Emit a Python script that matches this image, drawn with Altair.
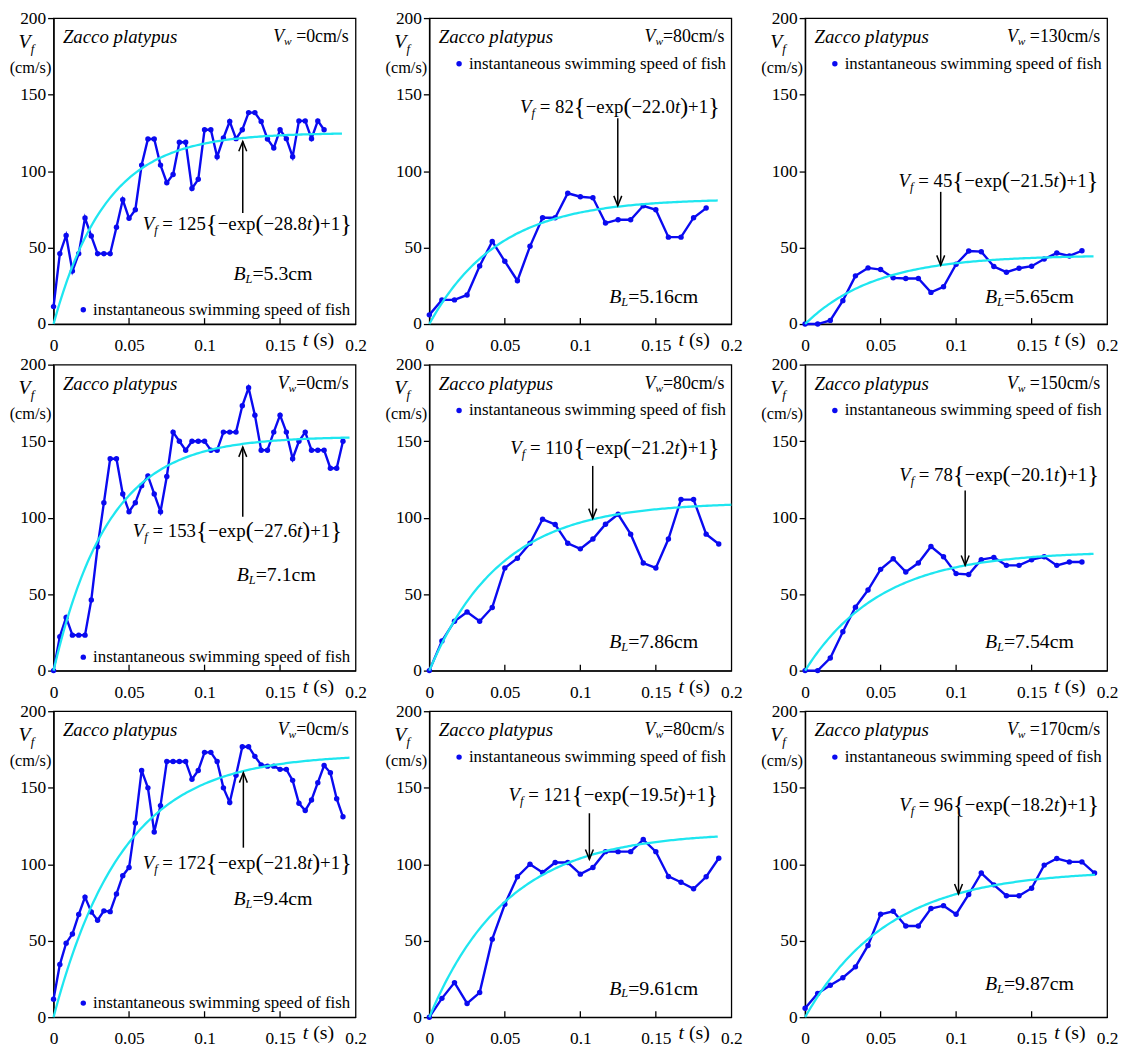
import altair as alt
import pandas as pd
import numpy as np

FONT = "Liberation Serif"
W, H = 305, 309
BLUE = "#0a0af0"
CYAN = "#1ee6f0"

# frame interval of each record (s)
FRAME = [1/240, 1/120, 1/120, 1/240, 1/120, 1/120, 1/240, 1/120, 1/120]

SPEED_1 = [11.4, 46, 57.9, 34.6, 46, 69.3, 57.5, 46, 46, 46, 63.3, 81.2, 69.1, 74.7, 103.9,
           121, 121, 103.9, 92.4, 97.8, 118.8, 118.8, 88.6, 94.6, 127, 127, 109.3, 121.6,
           132.4, 121.2, 127, 138.2, 138.2, 132.4, 121, 115.1, 127, 121.2, 109.3, 132.8,
           132.8, 121.2, 132.8, 127]
SPEED_2 = [6, 15.8, 15.8, 19, 38, 54, 41, 28.3, 50.8, 69.5, 69.5, 85.5, 83.2, 82.5, 66,
           68.2, 68.2, 77.3, 74.7, 56.8, 56.8, 69.5, 75.8]
SPEED_3 = [0, 0, 2.4, 15.3, 31.5, 36.7, 35.6, 30.2, 29.8, 29.8, 20.7, 24.4, 39.1, 47.7,
           47.3, 37.6, 33.9, 36.5, 37.8, 42.5, 46.4, 44.5, 47.9]
SPEED_4 = [0, 22.2, 34.8, 23.2, 23.2, 23.2, 46.2, 80.9, 109.7, 138.5, 138.5, 115.5, 103.9,
           109.7, 120.9, 127.3, 115.5, 103.9, 126.9, 155.9, 149.9, 144.1, 149.9, 149.9,
           149.9, 144.1, 144.1, 155.9, 155.9, 155.9, 173.1, 184.9, 167, 144.1, 144.1, 155.9,
           167, 155.9, 138.5, 149.9, 155.9, 144.1, 144.1, 144.1, 132.3, 132.3, 149.9]
SPEED_5 = [0, 19.4, 32.3, 38.3, 32.3, 41.3, 67.1, 73.5, 83.2, 98.9, 95.5, 83.2, 79.6, 86,
           95.7, 102.2, 89.2, 70.3, 67.1, 86, 111.8, 111.8, 89.2, 82.8]
SPEED_6 = [0, 0, 8.2, 25.4, 41.5, 52.7, 66.2, 73.1, 64.5, 70.3, 81.1, 74.4, 63.4, 62.8,
           72.5, 74, 68.8, 68.8, 72.5, 74.4, 68.8, 71, 71]
SPEED_7 = [11.8, 34.4, 48.4, 54.4, 67.1, 78.5, 68.8, 63.4, 69.5, 69, 80.6, 92.5, 97.8,
           126.9, 161.3, 149.9, 121.1, 138.3, 167.1, 167.1, 167.1, 167.1, 155.5, 161.3,
           173.1, 173.1, 167.1, 149.9, 140.4, 158.1, 176.8, 176.8, 170.5, 164.9, 164.1,
           164.1, 162, 162, 154.8, 139.8, 135.1, 142, 153.3, 164.5, 159.8, 142.8, 131]
SPEED_8 = [0, 12.3, 22.6, 9, 16.1, 51, 73.8, 91.8, 100, 94.6, 101.1, 101.1, 93.5, 97.8,
           108.2, 108.2, 108.2, 116.1, 108.2, 92, 88.2, 83.9, 91.8, 103.9]
SPEED_9 = [5.8, 15.5, 20.9, 25.8, 32.9, 46.9, 67.3, 69.2, 59.6, 59.6, 71, 72.9, 67.3, 80.2,
           94.2, 86.5, 79.4, 79.4, 84.3, 99.4, 103.7, 101.5, 101.5, 94.2]
SPEEDS = [SPEED_1, SPEED_2, SPEED_3, SPEED_4, SPEED_5, SPEED_6, SPEED_7, SPEED_8, SPEED_9]

VW = ["0", "80", "130", "0", "80", "150", "0", "80", "170"]
VW_GAP = [True, False, True, False, False, True, False, False, True]
BL = ["5.3", "5.16", "5.65", "7.1", "7.86", "7.54", "9.4", "9.61", "9.87"]
FIT_A = ["125", "82", "45", "153", "110", "78", "172", "121", "96"]
FIT_K = ["28.8", "22.0", "21.5", "27.6", "21.2", "20.1", "21.8", "19.5", "18.2"]
FIT_END = [0.191, 0.191, 0.191, 0.196, 0.2, 0.191, 0.196, 0.191, 0.192]

EQ_POS = [(0.059, 65.4), (0.0601, 142), (0.0619, 93.5), (0.0525, 91.4), (0.0536, 145.2),
          (0.0623, 128), (0.059, 101), (0.0525, 145), (0.0623, 138.7)]
# arrow: (t, tail v, tip v)
ARROWS = [(0.1253, 72.6, 119.4), (0.1248, 134.6, 77.3), (0.0898, 86.4, 38.4),
          (0.1253, 100.6, 146.2), (0.1082, 133.8, 99.4), (0.106, 117.8, 68.8),
          (0.1257, 110.8, 159.8), (0.106, 133.3, 103.2), (0.1016, 131.8, 80.6)]
BL_POS = [(0.1191, 32.4), (0.1191, 17.9), (0.1191, 17.9), (0.1213, 62.4), (0.1191, 18.7),
          (0.1191, 18.7), (0.1191, 77), (0.1191, 18.7), (0.1191, 21.5)]
LEGEND_V = [9.4, 170.2, 170.2, 8.8, 170.0, 170.0, 9.2, 170.0, 170.0]

X_TICKS = [0, 0.05, 0.1, 0.15, 0.2]
Y_TICKS = [0, 50, 100, 150, 200]
INNER_TICKS = [0.05, 0.1, 0.15]

# Times-compatible advance widths (per 1000 em)
REG = {' ': 250, '(': 333, ')': 333, '+': 564, '=': 564, '\u2212': 564, '.': 250, '/': 278,
       '{': 480, '}': 480, 'c': 444, 'm': 778, 's': 389, 'e': 444, 'x': 500, 'p': 500}
ITA = {'V': 611, 'f': 278, 'w': 667, 'B': 611, 'L': 556, 't': 278, ' ': 250}


def tw(txt, size, ital):
    tab = ITA if ital else REG
    return sum((500 if ch.isdigit() else tab.get(ch, 500)) for ch in txt) * size / 1000.0


X = alt.X('t:Q', scale=alt.Scale(domain=[0, 0.2], nice=False, zero=False),
          axis=alt.Axis(values=X_TICKS, format='~g', ticks=False, tickSize=0,
                        labelPadding=13, title=None, labelFlush=False, grid=False))
Y = alt.Y('v:Q', scale=alt.Scale(domain=[0, 200], nice=False, zero=False),
          axis=alt.Axis(values=Y_TICKS, tickSize=6, labelPadding=2, title=None,
                        labelFlush=False, grid=False))


def rich(parts, t, v, align='left'):
    widths = [tw(p[0], p[1], p[2]) for p in parts]
    x0 = 0.0 if align == 'left' else -sum(widths)
    df = pd.DataFrame({'t': [t], 'v': [v]})
    out = []
    for (txt, size, ital, dy), w in zip(parts, widths):
        lead = len(txt) - len(txt.lstrip(' '))
        out.append(alt.Chart(df).mark_text(
            text=txt.strip(' '), align='left', baseline='middle',
            dx=x0 + lead * 0.25 * size, dy=dy, font=FONT, fontSize=size,
            fontStyle='italic' if ital else 'normal', color='black'
        ).encode(x=X, y=Y))
        x0 += w
    return out


def panel(i):
    vals = SPEEDS[i]
    pts = pd.DataFrame({'t': [k * FRAME[i] for k in range(len(vals))], 'v': vals})
    A = float(FIT_A[i]); K = float(FIT_K[i])
    tc = np.linspace(0, FIT_END[i], 150)
    cur = pd.DataFrame({'t': tc, 'v': A * (1 - np.exp(-K * tc))})
    layers = []
    layers.append(alt.Chart(pts).mark_line(color=BLUE, strokeWidth=2.4).encode(x=X, y=Y))
    layers.append(alt.Chart(pts).mark_circle(color=BLUE, size=30, opacity=1).encode(x=X, y=Y))
    layers.append(alt.Chart(cur).mark_line(color=CYAN, strokeWidth=2.3).encode(x=X, y=Y))
    # inward x ticks
    layers.append(alt.Chart(pd.DataFrame({'t': INNER_TICKS})).mark_rule(
        color='black', strokeWidth=1.3).encode(x=X, y=alt.value(H), y2=alt.value(H - 6)))
    # arrow
    ta, v_tail, v_tip = ARROWS[i]
    layers.append(alt.Chart(pd.DataFrame({'t': [ta], 'v': [v_tail], 'v2': [v_tip]})).mark_rule(
        color='black', strokeWidth=1.5).encode(x=X, y=Y, y2='v2:Q'))
    head = "M-0.8,2L0,0L0.8,2" if v_tip > v_tail else "M-0.8,-2L0,0L0.8,-2"
    layers.append(alt.Chart(pd.DataFrame({'t': [ta], 'v': [v_tip]})).mark_point(
        shape=head, filled=False, color='black', size=100, strokeWidth=1.5, opacity=1
    ).encode(x=X, y=Y))
    # legend
    lv = LEGEND_V[i]
    layers.append(alt.Chart(pd.DataFrame({'t': [0.0197], 'v': [lv]})).mark_circle(
        color=BLUE, size=30, opacity=1).encode(x=X, y=Y))
    layers += rich([("instantaneous swimming speed of fish", 17, False, 0)], 0.0262, lv)
    # species
    layers += rich([("Zacco platypus", 19, True, 0)], 0.0062, 187.5)
    # water velocity
    layers += rich([("V", 18, True, 0), ("w", 11.5, True, 5),
                    ((" =" if VW_GAP[i] else "=") + VW[i] + "cm/s", 18, False, 0)],
                   0.1955, 187.5, align='right')
    # body length
    bt, bv = BL_POS[i]
    layers += rich([("B", 20, True, 0), ("L", 12.5, True, 5), ("=" + BL[i] + "cm", 20, False, 0)],
                   bt, bv)
    # fitted equation with enlarged delimiters
    et, ev = EQ_POS[i]
    E = 19
    layers += rich([("V", E, True, 0), ("f", 12.5, True, 6),
                    (" = " + FIT_A[i], E, False, 0), ("{", 25, False, 0),
                    ("\u2212exp", E, False, 0), ("(", 24, False, 0),
                    ("\u2212" + FIT_K[i], E, False, 0), ("t", E, True, 0),
                    (")", 24, False, 0), ("+1", E, False, 0), ("}", 25, False, 0)], et, ev)
    # axis titles
    layers += rich([("V", 20, True, 0), ("f", 13, True, 7)], -0.02315, 184.5)
    layers += rich([("(cm/s)", 16.5, False, 0)], -0.02905, 167.6)
    layers += rich([("t", 20, True, 0), (" (s)", 20, False, 0)], 0.165, -10.7)
    return alt.layer(*layers).properties(width=W, height=H)


chart = alt.concat(*[panel(i) for i in range(9)], columns=3,
                   spacing={'row': 41, 'column': 74.5}, bounds='flush').properties(
    padding={'left': 1, 'top': -5, 'right': 0, 'bottom': 0}
).configure_view(stroke='black', strokeWidth=1.3).configure_axis(
    domainColor='black', domainWidth=1.3, tickColor='black', tickWidth=1.3,
    labelFont=FONT, labelFontSize=17.5, labelColor='black', grid=False)

chart.save("out.html", embed_options={"renderer": "svg", "actions": False})
